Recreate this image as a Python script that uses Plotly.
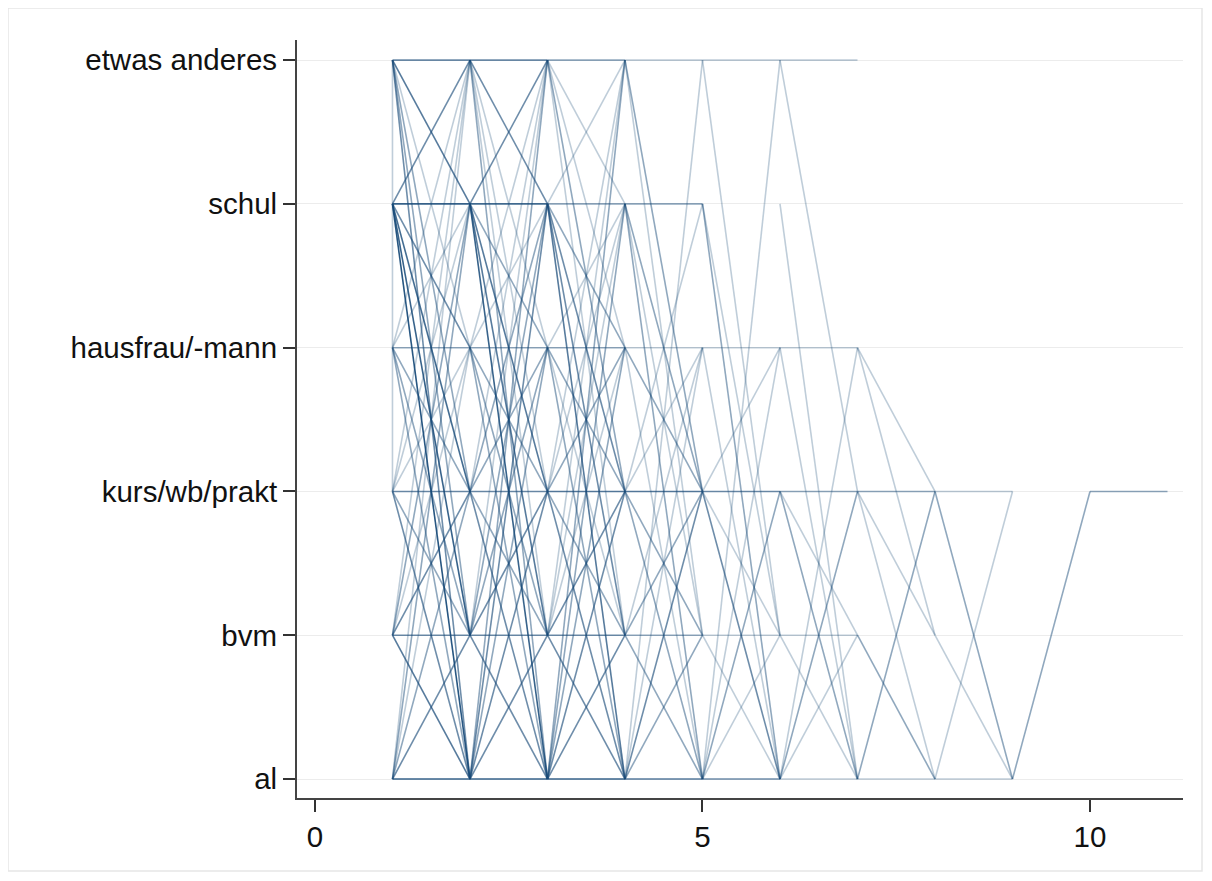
import plotly.graph_objects as go

# ---- data -------------------------------------------------------------
states = ["al", "bvm", "kurs/wb/prakt", "hausfrau/-mann", "schul", "etwas anderes"]
x_tick_vals = [0, 5, 10]

# transitions between consecutive time points: (from_state, to_state, count)
step_1_2 = [(0, 0, 6), (0, 1, 3), (0, 2, 2), (0, 3, 1), (0, 4, 2), (0, 5, 1),
            (1, 0, 4), (1, 1, 3), (1, 2, 3), (1, 3, 1), (1, 4, 2), (1, 5, 1),
            (2, 0, 3), (2, 1, 2), (2, 2, 3), (2, 3, 1), (2, 4, 1), (2, 5, 1),
            (3, 0, 2), (3, 1, 2), (3, 2, 2), (3, 3, 2), (3, 4, 1), (3, 5, 1),
            (4, 0, 9), (4, 1, 6), (4, 2, 5), (4, 3, 3), (4, 4, 6), (4, 5, 3),
            (5, 0, 3), (5, 1, 2), (5, 2, 2), (5, 3, 1), (5, 4, 4), (5, 5, 3)]
step_2_3 = [(0, 0, 6), (0, 1, 3), (0, 2, 3), (0, 3, 2), (0, 4, 3), (0, 5, 2),
            (1, 0, 3), (1, 1, 3), (1, 2, 3), (1, 3, 2), (1, 4, 2), (1, 5, 1),
            (2, 0, 3), (2, 1, 2), (2, 2, 3), (2, 3, 2), (2, 4, 2), (2, 5, 1),
            (3, 0, 2), (3, 1, 2), (3, 2, 2), (3, 3, 2), (3, 4, 1), (3, 5, 1),
            (4, 0, 6), (4, 1, 4), (4, 2, 4), (4, 3, 2), (4, 4, 5), (4, 5, 3),
            (5, 0, 2), (5, 1, 1), (5, 2, 1), (5, 3, 1), (5, 4, 3), (5, 5, 3)]
step_3_4 = [(0, 0, 6), (0, 1, 3), (0, 2, 3), (0, 3, 2), (0, 4, 2), (0, 5, 2),
            (1, 0, 3), (1, 1, 3), (1, 2, 3), (1, 3, 1), (1, 4, 1), (1, 5, 1),
            (2, 0, 3), (2, 1, 2), (2, 2, 4), (2, 3, 2), (2, 4, 1), (2, 5, 1),
            (3, 0, 2), (3, 1, 1), (3, 2, 2), (3, 3, 2), (3, 4, 1),
            (4, 0, 4), (4, 1, 3), (4, 2, 3), (4, 3, 2), (4, 4, 2), (4, 5, 1),
            (5, 1, 1), (5, 2, 2), (5, 3, 1), (5, 4, 1), (5, 5, 2)]
step_4_5 = [(0, 0, 4), (0, 1, 2), (0, 2, 3), (0, 3, 1), (0, 5, 1),
            (1, 0, 2), (1, 1, 2), (1, 2, 2), (1, 3, 1),
            (2, 0, 2), (2, 1, 2), (2, 2, 4), (2, 3, 1), (2, 4, 1),
            (3, 0, 1), (3, 2, 2), (3, 3, 1),
            (4, 0, 2), (4, 2, 2), (4, 4, 2), (4, 1, 1),
            (5, 1, 1), (5, 2, 2), (5, 5, 1)]
step_5_6 = [(0, 0, 3), (0, 1, 1), (0, 2, 2), (0, 3, 1), (0, 5, 1),
            (1, 0, 1), (1, 1, 1),
            (2, 0, 3), (2, 1, 1), (2, 2, 3), (2, 3, 1),
            (3, 0, 1), (3, 3, 1),
            (4, 0, 2), (4, 1, 1),
            (5, 1, 1), (5, 5, 1)]
step_6_7 = [(0, 0, 1), (0, 1, 1), (0, 2, 2), (0, 3, 1),
            (1, 0, 1), (1, 1, 1),
            (2, 0, 2), (2, 1, 1), (2, 2, 2),
            (3, 0, 1), (3, 3, 1),
            (4, 0, 1),
            (5, 2, 1), (5, 5, 1)]
step_7_8 = [(0, 0, 1), (0, 2, 2),
            (1, 0, 2),
            (2, 0, 1), (2, 1, 1), (2, 2, 2),
            (3, 1, 1), (3, 2, 1)]
step_8_9 = [(0, 0, 1), (0, 2, 1),
            (1, 0, 1),
            (2, 0, 2), (2, 2, 1)]
step_9_10 = [(0, 2, 2)]
step_10_11 = [(2, 2, 2)]

# same-time vertical link at t = 1: (time, from_state, to_state, count)
vertical_links = [(1, 5, 2, 1)]

steps = [(1, step_1_2), (2, step_2_3), (3, step_3_4), (4, step_4_5),
         (5, step_5_6), (6, step_6_7), (7, step_7_8), (8, step_8_9),
         (9, step_9_10), (10, step_10_11)]

# ---- build segments grouped by count ---------------------------------
groups = {}
for t, trans in steps:
    for a, b, w in trans:
        gx, gy = groups.setdefault(w, ([], []))
        gx += [t, t + 1, None]
        gy += [a, b, None]
for t, a, b, w in vertical_links:
    gx, gy = groups.setdefault(w, ([], []))
    gx += [t, t, None]
    gy += [a, b, None]

fig = go.Figure()
for w in sorted(groups):
    gx, gy = groups[w]
    alpha = min(0.93, 1 - (1 - 0.28) ** w)
    fig.add_trace(go.Scatter(
        x=gx, y=gy, mode="lines",
        line=dict(color=f"rgba(24,74,120,{alpha:.3f})", width=1.6),
        hoverinfo="skip", showlegend=False))

W, H = 1196, 865
ml, mr, mt, mb = 289, 21, 32, 75
pw, ph = W - ml - mr, H - mt - mb

fig.update_layout(
    width=W, height=H,
    margin=dict(l=ml, r=mr, t=mt, b=mb),
    paper_bgcolor="white", plot_bgcolor="white",
    font=dict(family="Liberation Sans, Arial, sans-serif", size=29.5, color="#111111"),
    xaxis=dict(range=[-0.232, 11.2], tickvals=x_tick_vals, ticks="outside",
               ticklen=12, tickwidth=1.5, tickcolor="#333333",
               showline=True, linewidth=2, linecolor="#444444",
               showgrid=False, zeroline=False, fixedrange=True),
    yaxis=dict(range=[-0.132, 5.14], tickvals=list(range(len(states))),
               ticktext=states, ticks="outside", ticklen=12, tickwidth=1.5,
               tickcolor="#333333", showline=True, linewidth=2,
               linecolor="#444444", showgrid=True, gridcolor="#ececec",
               gridwidth=1, zeroline=False, fixedrange=True),
    shapes=[dict(type="rect", xref="paper", yref="paper",
                 x0=-ml / pw, x1=(W - 2 - ml) / pw,
                 y0=-(mb - 2) / ph, y1=1 + mt / ph,
                 line=dict(color="#e6e6e6", width=1.5), layer="below")],
)

fig.write_html("out.html")
